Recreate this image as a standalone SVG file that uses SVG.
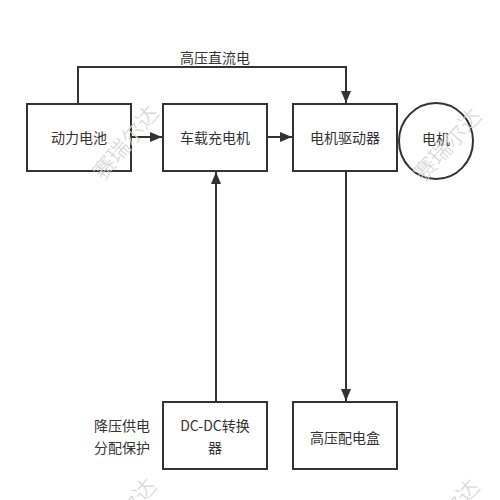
<svg xmlns="http://www.w3.org/2000/svg" width="500" height="500" viewBox="0 0 500 500">
<style>
.box{fill:#fff;stroke:#333;stroke-width:2}
.t{font-family:"Noto Sans CJK SC","Noto Sans",sans-serif;font-size:14px;fill:#333;text-anchor:middle;dominant-baseline:central}
.c{fill:none;stroke:#333;stroke-width:2}
.wm{font-family:"Noto Sans CJK SC",sans-serif;font-size:22px;font-weight:300;fill:#d4d4d4;text-anchor:middle;dominant-baseline:central}
</style>
<defs>
<marker id="a" viewBox="0 0 12 10" refX="12" refY="5" markerWidth="6" markerHeight="5" orient="auto" markerUnits="strokeWidth">
<path d="M0,0 L12,5 L0,10 z" fill="#333"/>
</marker>
</defs>
<rect width="500" height="500" fill="#fff"/>
<g id="connectors">
<path class="c" d="M78,104 V67 H346 V103" marker-end="url(#a)"/>
<path class="c" d="M131,137 H162" marker-end="url(#a)"/>
<path class="c" d="M267,137 H292" marker-end="url(#a)"/>
<path class="c" d="M216,402 V172" marker-end="url(#a)"/>
<path class="c" d="M346,171 V401" marker-end="url(#a)"/>
<text class="t" x="215" y="57">高压直流电</text>
</g>
<g id="battery"><rect class="box" x="27" y="104" width="104" height="67"/><text class="t" x="79" y="137">动力电池</text></g>
<g id="charger"><rect class="box" x="163" y="104" width="104" height="67"/><text class="t" x="215" y="137">车载充电机</text></g>
<g id="driver"><rect class="box" x="293" y="104" width="104" height="67"/><text class="t" x="345" y="137">电机驱动器</text></g>
<g id="motor"><ellipse class="box" cx="436" cy="141" rx="37" ry="38"/><text class="t" x="436" y="138">电机</text></g>
<g id="dcdc"><rect class="box" x="163" y="402" width="104" height="67"/><text class="t" x="215" y="425">DC-DC转换</text><text class="t" x="215" y="447">器</text></g>
<g id="pdu"><rect class="box" x="293" y="402" width="104" height="67"/><text class="t" x="345" y="437">高压配电盒</text></g>
<g id="note"><text class="t" x="122" y="425">降压供电</text><text class="t" x="122" y="447">分配保护</text></g>
<g id="watermarks">
<text class="wm" transform="translate(124,141) rotate(-50)">赛瑞尔达</text>
<text class="wm" transform="translate(446,143) rotate(-48)">赛瑞尔达</text>
<text class="wm" transform="translate(122,514) rotate(-50)">赛瑞尔达</text>
<text class="wm" transform="translate(444,514) rotate(-48)">赛瑞尔达</text>
</g>
</svg>
